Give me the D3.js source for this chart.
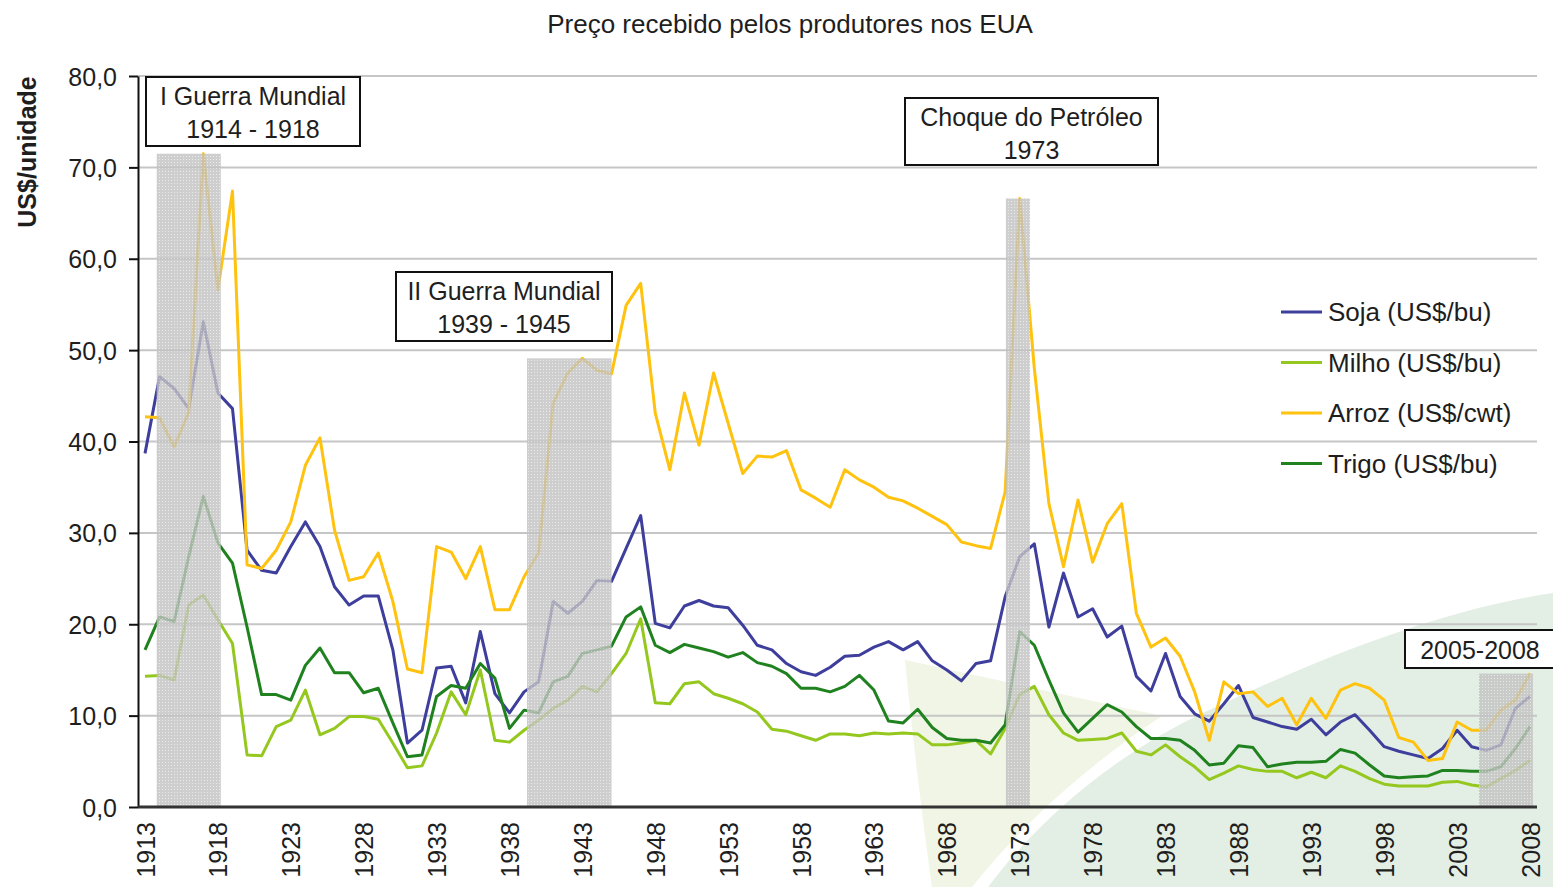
<!DOCTYPE html>
<html>
<head>
<meta charset="utf-8">
<script src="https://cdn.jsdelivr.net/npm/d3@7"></script>
<style>
  html, body { margin: 0; padding: 0; background: #ffffff; }
  svg { display: block; }
  text { font-family: "Liberation Sans", Arial, sans-serif; fill: #1e1e1e; }
</style>
</head>
<body>
<svg id="chart" width="1553" height="887"></svg>
<script>
// ---------------- DATA ----------------
const title = "Preço recebido pelos produtores nos EUA";
const yAxisTitle = "US$/unidade";

const years = [1913,1914,1915,1916,1917,1918,1919,1920,1921,1922,1923,1924,1925,1926,1927,1928,1929,1930,1931,1932,
  1933,1934,1935,1936,1937,1938,1939,1940,1941,1942,1943,1944,1945,1946,1947,1948,1949,1950,1951,1952,
  1953,1954,1955,1956,1957,1958,1959,1960,1961,1962,1963,1964,1965,1966,1967,1968,1969,1970,1971,1972,
  1973,1974,1975,1976,1977,1978,1979,1980,1981,1982,1983,1984,1985,1986,1987,1988,1989,1990,1991,1992,
  1993,1994,1995,1996,1997,1998,1999,2000,2001,2002,2003,2004,2005,2006,2007,2008];

const soja = [38.7,47.1,45.8,43.6,53.1,45.3,43.6,28.1,25.9,25.6,28.5,31.2,28.5,24.1,22.1,23.1,23.1,17.2,7.0,8.4,
  15.2,15.4,11.4,19.2,12.4,10.3,12.6,13.7,22.5,21.2,22.5,24.8,24.7,28.3,31.9,20.1,19.6,22.0,22.6,22.0,
  21.8,19.9,17.7,17.2,15.7,14.8,14.4,15.3,16.5,16.6,17.5,18.1,17.2,18.1,16.0,15.0,13.8,15.7,16.0,23.0,
  27.4,28.8,19.7,25.6,20.8,21.7,18.6,19.8,14.3,12.7,16.8,12.1,10.2,9.4,11.3,13.3,9.8,9.3,8.8,8.5,
  9.6,7.9,9.3,10.1,8.4,6.6,6.1,5.7,5.3,6.4,8.4,6.6,6.2,6.8,10.8,12.1];

const milho = [14.3,14.4,13.9,22.1,23.2,20.5,17.9,5.7,5.6,8.8,9.5,12.8,7.9,8.6,9.9,9.9,9.6,7.0,4.3,4.5,
  8.1,12.6,10.1,15.0,7.3,7.1,8.4,9.5,10.8,11.7,13.2,12.6,14.6,16.8,20.6,11.4,11.3,13.5,13.7,12.4,
  11.9,11.3,10.4,8.5,8.3,7.8,7.3,8.0,8.0,7.8,8.1,8.0,8.1,8.0,6.8,6.8,7.0,7.3,5.8,8.6,
  12.3,13.2,10.1,8.1,7.3,7.4,7.5,8.1,6.1,5.7,6.8,5.5,4.4,3.0,3.7,4.5,4.1,3.9,3.9,3.2,
  3.8,3.2,4.5,3.9,3.1,2.5,2.3,2.3,2.3,2.7,2.8,2.4,2.2,3.1,4.0,5.1];

const arroz = [42.7,42.6,39.4,43.2,71.5,56.6,67.4,26.5,26.1,28.1,31.2,37.4,40.4,30.3,24.8,25.2,27.8,22.5,15.1,14.7,
  28.5,27.9,25.0,28.5,21.6,21.6,25.2,27.8,44.2,47.5,49.1,47.8,47.4,54.9,57.3,43.1,36.9,45.3,39.6,47.5,
  42.0,36.5,38.4,38.3,39.0,34.7,33.8,32.8,36.9,35.8,35.0,33.9,33.5,32.7,31.8,30.9,29.0,28.6,28.3,34.5,
  66.6,48.0,33.2,26.3,33.6,26.8,31.0,33.2,21.2,17.5,18.5,16.5,12.6,7.3,13.7,12.4,12.6,11.0,11.9,9.0,
  11.9,9.7,12.8,13.5,13.0,11.7,7.6,7.1,5.1,5.3,9.3,8.4,8.4,10.6,11.7,14.6];

const trigo = [17.2,20.8,20.3,27.4,34.0,28.9,26.7,19.7,12.3,12.3,11.7,15.5,17.4,14.7,14.7,12.5,13.0,9.2,5.5,5.7,
  12.1,13.3,13.0,15.7,14.1,8.6,10.6,10.3,13.7,14.3,16.8,17.2,17.6,20.8,21.9,17.7,16.9,17.8,17.4,17.0,
  16.4,16.9,15.8,15.4,14.6,13.0,13.0,12.6,13.2,14.4,12.8,9.4,9.2,10.7,8.7,7.5,7.3,7.3,7.0,9.0,
  19.2,17.7,13.9,10.3,8.2,9.7,11.2,10.4,8.8,7.5,7.5,7.3,6.2,4.6,4.8,6.7,6.5,4.4,4.7,4.9,
  4.9,5.0,6.3,5.9,4.6,3.4,3.2,3.3,3.4,4.0,4.0,3.9,3.9,4.4,6.4,8.8];

const seriesNames = ["Soja (US$/bu)", "Milho (US$/bu)", "Arroz (US$/cwt)", "Trigo (US$/bu)"];
const seriesColors = ["#3e3e9c", "#94c81e", "#ffc20e", "#1f821f"];

const xTickLabels = [1913,1918,1923,1928,1933,1938,1943,1948,1953,1958,1963,1968,1973,1978,1983,1988,1993,1998,2003,2008];
const yTickValues = [0,10,20,30,40,50,60,70,80];

// highlighted periods: band edges (years) and the event years it covers
const bandStart = [1913.8, 1939.2, 1972.05, 2004.5];
const bandEnd   = [1918.2, 1945.0, 1973.7, 2008.2];
const eventFrom = [1914, 1939, 1973, 2005];
const eventTo   = [1918, 1945, 1973, 2008];

const annotationLines = [
  ["I Guerra Mundial", "1914 - 1918"],
  ["II Guerra Mundial", "1939 - 1945"],
  ["Choque do Petróleo", "1973"],
  ["2005-2008"]
];

// ---------------- LAYOUT ----------------
const W = 1553, H = 887;
const svg = d3.select("#chart");
const x = d3.scaleLinear().domain([1913, 2008]).range([145, 1530]);
const y = d3.scaleLinear().domain([0, 80]).range([807, 76]);
const plotLeft = 138, plotRight = 1537;
const FONT = 25;

const allSeries = [soja, milho, arroz, trigo];

// decorative background swoosh
const deco = svg.append("g");
deco.append("path")
  .attr("d", `M905,660 L1162,716 C1095,760 1025,820 972,${H} L932,${H} C920,800 912,730 905,660 Z`)
  .attr("fill", "#f0f5e5");
deco.append("path")
  .attr("d", `M988,${H} C1045,812 1120,752 1205,712 C1320,658 1440,610 ${W},593 L${W},${H} Z`)
  .attr("fill", "#e3efe4");

// gridlines
svg.append("g").selectAll("line")
  .data(yTickValues.filter(v => v > 0))
  .join("line")
  .attr("x1", plotLeft).attr("x2", plotRight)
  .attr("y1", d => y(d)).attr("y2", d => y(d))
  .attr("stroke", "#c6c6c6").attr("stroke-width", 2);

// lines
const lineGen = d3.line().x((d, i) => x(years[i])).y(d => y(d));
svg.append("g").selectAll("path")
  .data(allSeries)
  .join("path")
  .attr("d", d => lineGen(d))
  .attr("fill", "none")
  .attr("stroke", (d, i) => seriesColors[i])
  .attr("stroke-width", 3)
  .attr("stroke-linejoin", "round");

// band pattern
const defs = svg.append("defs");
const pat = defs.append("pattern").attr("id", "dots").attr("width", 3).attr("height", 3)
  .attr("patternUnits", "userSpaceOnUse");
pat.append("rect").attr("width", 3).attr("height", 3).attr("fill", "#c2c2c2");
pat.append("rect").attr("width", 1).attr("height", 1).attr("fill", "#e6e6e6");

const bands = bandStart.map((s, i) => {
  let mx = 0;
  years.forEach((yr, k) => {
    if (yr >= eventFrom[i] && yr <= eventTo[i]) allSeries.forEach(sr => { mx = Math.max(mx, sr[k]); });
  });
  return { s, e: bandEnd[i], top: mx };
});
svg.append("g").attr("opacity", 0.8).selectAll("rect")
  .data(bands)
  .join("rect")
  .attr("x", d => x(d.s))
  .attr("width", d => x(d.e) - x(d.s))
  .attr("y", d => y(d.top))
  .attr("height", d => y(0) - y(d.top))
  .attr("fill", "url(#dots)");

// axes
const fmt = d3.formatLocale({ decimal: ",", thousands: ".", grouping: [3], currency: ["", ""] }).format(".1f");
const yAxis = svg.append("g").attr("transform", `translate(${plotLeft},0)`)
  .call(d3.axisLeft(y).tickValues(yTickValues).tickFormat(fmt).tickSize(9).tickSizeOuter(0).tickPadding(12));
yAxis.select(".domain").attr("stroke", "#111").attr("stroke-width", 2);
yAxis.selectAll(".tick line").attr("stroke", "#111").attr("stroke-width", 2);
yAxis.selectAll(".tick text").attr("font-size", FONT).attr("font-family", "Liberation Sans, Arial, sans-serif")
  .attr("fill", "#1e1e1e").attr("dy", "0.36em");

const xAxis = svg.append("g").attr("transform", `translate(0,${y(0)})`)
  .call(d3.axisBottom(x).tickValues(xTickLabels).tickFormat(d3.format("d")).tickSize(0));
xAxis.select(".domain").attr("d", `M${plotLeft},0H${plotRight}`).attr("stroke", "#333").attr("stroke-width", 3);
xAxis.selectAll(".tick text")
  .attr("font-size", FONT).attr("font-family", "Liberation Sans, Arial, sans-serif").attr("fill", "#1e1e1e")
  .attr("text-anchor", "end")
  .attr("transform", "translate(0,15) rotate(-90)")
  .attr("x", 0).attr("y", 0).attr("dy", "0.36em");

// title
svg.append("text").attr("x", 790).attr("y", 33).attr("text-anchor", "middle")
  .attr("font-size", 26).text(title);
svg.append("text").attr("transform", "translate(36,152) rotate(-90)").attr("text-anchor", "middle")
  .attr("font-size", 25).attr("font-weight", "bold").text(yAxisTitle);

// annotation boxes
const boxes = [
  { x: 146, y: 77, w: 214, h: 69 },
  { x: 396, y: 272, w: 216, h: 69 },
  { x: 905, y: 98, w: 253, h: 67 },
  { x: 1405, y: 630, w: 152, h: 38 }
];
const ann = svg.append("g").selectAll("g").data(boxes).join("g");
ann.append("rect")
  .attr("x", d => d.x).attr("y", d => d.y).attr("width", d => d.w).attr("height", d => d.h)
  .attr("fill", "#fff").attr("stroke", "#111").attr("stroke-width", 2);
ann.each(function(d, i) {
  const g = d3.select(this);
  const lines = annotationLines[i];
  lines.forEach((t, j) => {
    g.append("text")
      .attr("x", d.x + (i === 3 ? 75 : d.w / 2))
      .attr("y", d.y + (lines.length === 1 ? 29 : 28 + j * 33))
      .attr("text-anchor", "middle").attr("font-size", FONT).text(t);
  });
});

// legend
const legend = svg.append("g").selectAll("g").data(seriesNames).join("g")
  .attr("transform", (d, i) => `translate(1281,${312 + i * 50.5})`);
legend.append("line").attr("x1", 0).attr("x2", 41).attr("y1", 0).attr("y2", 0)
  .attr("stroke", (d, i) => seriesColors[i]).attr("stroke-width", 3);
legend.append("text").attr("x", 47).attr("y", 0).attr("dy", "0.36em").attr("font-size", 26).text(d => d);
</script>
</body>
</html>
